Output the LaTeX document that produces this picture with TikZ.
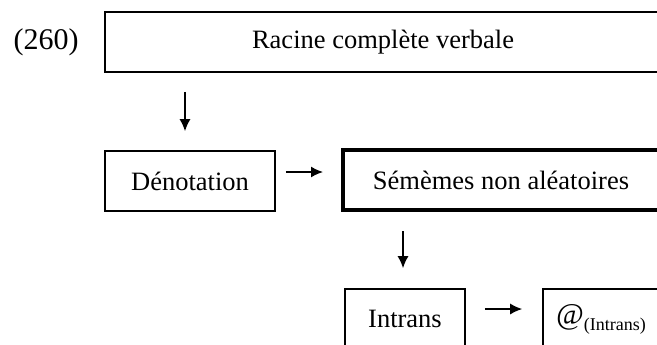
\documentclass[tikz,border=0pt]{standalone}
\usepackage{fontspec}
\setmainfont{Liberation Serif}
\usetikzlibrary{arrows.meta}
\definecolor{Ink}{RGB}{0,0,0}
\tikzset{
  >=Latex,
  box/.style={draw=Ink,line width=0.8pt,fill=white,align=center,text=Ink,font=\fontsize{13.25}{16}\selectfont,minimum height=30pt,inner sep=0pt},
  heavybox/.style={box,line width=2pt},
  numlabel/.style={font=\fontsize{15}{18}\selectfont,text=Ink},
  arr/.style={-{Latex[length=6pt,width=5.5pt]},line width=0.75pt,draw=Ink}
}
\begin{document}
\begin{tikzpicture}[x=0.5pt,y=-0.5pt]
  \useasboundingbox (0,0) rectangle (657,344);
  \node[numlabel] (ex) at (46,42) {(260)};
  \node[box,minimum width=278pt] (root) at (383,42) {Racine complète verbale};
  \node[box,minimum width=85pt] (den) at (190,181) {Dénotation};
  \node[heavybox,minimum width=158pt] (sem) at (501,180) {Sémèmes non aléatoires};
  \node[box,minimum width=60pt] (intr) at (405,319) {Intrans};
  \node[box,minimum width=58pt] (at) at (601,319) {{\fontsize{15}{16}\selectfont\itshape @}\raisebox{-3pt}{\fontsize{9}{10}\selectfont(Intrans)}};
  % connectors
  \draw[arr,shorten <=9.5pt,shorten >=9.5pt] ([xshift=-2.5pt]den.north |- root.south) -- ([xshift=-2.5pt]den.north);
  \draw[arr,shorten <=5pt,shorten >=9pt] ([yshift=4.5pt]den.east) -- ([yshift=4.5pt]den.east -| sem.west);
  \draw[arr,shorten <=9.5pt,shorten >=10pt] ([xshift=-1pt]intr.north |- sem.south) -- ([xshift=-1pt]intr.north);
  \draw[arr,shorten <=9.5pt,shorten >=10pt] ([yshift=5pt]intr.east) -- ([yshift=5pt]intr.east -| at.west);
\end{tikzpicture}
\end{document}
